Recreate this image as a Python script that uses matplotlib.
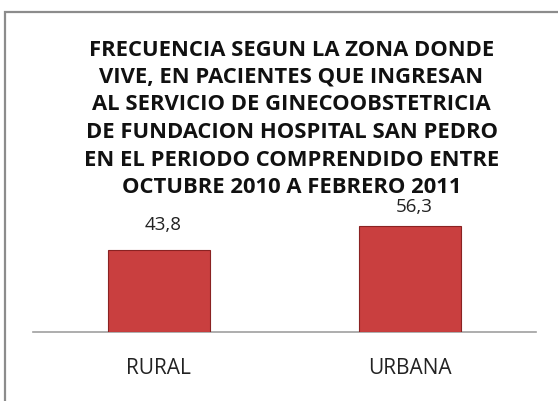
import matplotlib
matplotlib.use("Agg")
import matplotlib.pyplot as plt
from matplotlib.patches import Rectangle

categories = ["RURAL", "URBANA"]
values = [43.8, 56.3]
value_labels = ["43,8", "56,3"]
title_lines = ["FRECUENCIA SEGUN LA ZONA DONDE",
               "VIVE, EN PACIENTES QUE INGRESAN",
               "AL SERVICIO DE GINECOOBSTETRICIA",
               "DE FUNDACION HOSPITAL SAN PEDRO",
               "EN EL PERIODO COMPRENDIDO ENTRE",
               "OCTUBRE 2010 A FEBRERO 2011"]

W, H = 558, 401
fig = plt.figure(figsize=(W / 100, H / 100), dpi=100)
fig.patch.set_facecolor("white")

# outer chart frame (extends off right/bottom)
fig.patches.append(Rectangle((5 / W, -0.05), 1.1, 1 - 12 / H + 0.05,
                             transform=fig.transFigure, fill=False,
                             edgecolor="#8c8c8c", linewidth=1.6))

ax = fig.add_axes([33 / W, 69 / H, 503 / W, 113 / H])
x = list(range(len(categories)))
bars = ax.bar(x, values, width=0.405, color="#C93F3F", edgecolor="#8A2222",
              linewidth=0.8, zorder=3)
ax.set_xlim(-0.5, 1.5)
ax.set_ylim(0, 60)
for s in ["top", "left", "right"]:
    ax.spines[s].set_visible(False)
ax.spines["bottom"].set_color("#a0a0a0")
ax.spines["bottom"].set_linewidth(1.2)
ax.set_yticks([])
ax.set_xticks(x)
ax.set_xticklabels(categories, fontsize=15, family="Open Sans", color="#222222")
ax.tick_params(axis="x", length=0, pad=19)

offsets = [18, 14]
for b, lab, off in zip(bars, value_labels, offsets):
    ax.annotate(lab, (b.get_x() + b.get_width() / 2, b.get_height()),
                xytext=(3, off), textcoords="offset points",
                ha="center", va="center", fontsize=13.5, family="Open Sans",
                color="#222222")

y0, dy = 47.5, 27.5
for i, line in enumerate(title_lines):
    fig.text(291.5 / W, 1 - (y0 + i * dy) / H, line, ha="center",
             va="center_baseline", fontsize=15.8, fontweight="bold",
             family="Open Sans", color="#111111")

fig.savefig("out.png", dpi=100)
